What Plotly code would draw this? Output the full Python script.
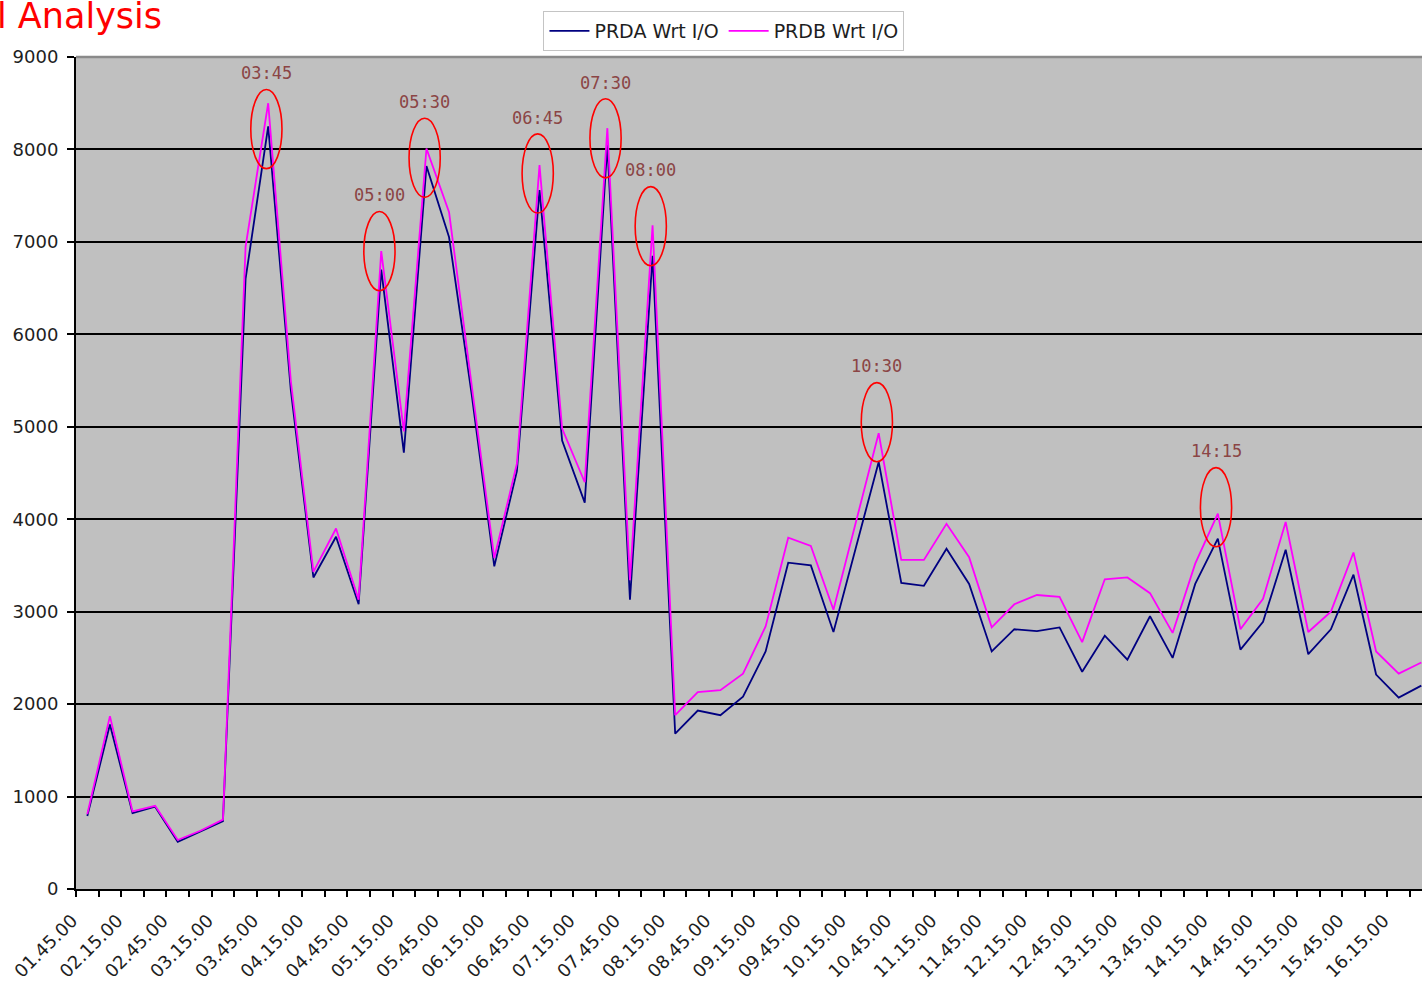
import plotly.graph_objects as go

NAVY = "#000080"
MAGENTA = "#ff00ff"
NOTE = "#8b4545"

TIMES = [
    "01.45.00", "02.00.00", "02.15.00", "02.30.00", "02.45.00", "03.00.00",
    "03.15.00", "03.30.00", "03.45.00", "04.00.00", "04.15.00", "04.30.00",
    "04.45.00", "05.00.00", "05.15.00", "05.30.00", "05.45.00", "06.00.00",
    "06.15.00", "06.30.00", "06.45.00", "07.00.00", "07.15.00", "07.30.00",
    "07.45.00", "08.00.00", "08.15.00", "08.30.00", "08.45.00", "09.00.00",
    "09.15.00", "09.30.00", "09.45.00", "10.00.00", "10.15.00", "10.30.00",
    "10.45.00", "11.00.00", "11.15.00", "11.30.00", "11.45.00", "12.00.00",
    "12.15.00", "12.30.00", "12.45.00", "13.00.00", "13.15.00", "13.30.00",
    "13.45.00", "14.00.00", "14.15.00", "14.30.00", "14.45.00", "15.00.00",
    "15.15.00", "15.30.00", "15.45.00", "16.00.00", "16.15.00", "16.30.00",
]

PRDA_WRT = [
    790, 1780, 820, 890, 510, 620, 735, 6600, 8250, 5400,
    3370, 3810, 3080, 6700, 4720, 7820, 7050, 5350, 3490, 4520,
    7560, 4850, 4180, 8050, 3130, 6850, 1680, 1930, 1880, 2080,
    2570, 3530, 3500, 2780, 3700, 4620, 3310, 3280, 3680, 3300,
    2570, 2810, 2790, 2830, 2350, 2740, 2480, 2950, 2500, 3300,
    3790, 2590, 2890, 3670, 2540, 2810, 3400, 2320, 2070, 2200,
]

PRDB_WRT = [
    810, 1870, 840, 900, 530, 630, 750, 6950, 8500, 5500,
    3430, 3900, 3130, 6900, 4950, 8010, 7320, 5450, 3580, 4600,
    7830, 4980, 4400, 8230, 3340, 7180, 1880, 2130, 2150, 2330,
    2840, 3800, 3710, 3020, 3980, 4930, 3560, 3560, 3950, 3590,
    2830, 3080, 3180, 3160, 2670, 3350, 3370, 3200, 2770, 3520,
    4060, 2810, 3140, 3970, 2780, 3000, 3640, 2570, 2330, 2450,
]

PEAK_LABELS = ["03:45", "05:00", "05:30", "06:45", "07:30", "08:00", "10:30", "14:15"]

Y_TICKS = [0, 1000, 2000, 3000, 4000, 5000, 6000, 7000, 8000, 9000]

idx = list(range(len(TIMES)))

fig = go.Figure()
fig.add_trace(go.Scatter(x=idx, y=PRDA_WRT, mode="lines", name="PRDA Wrt I/O",
                         line=dict(color=NAVY, width=1.8)))
fig.add_trace(go.Scatter(x=idx, y=PRDB_WRT, mode="lines", name="PRDB Wrt I/O",
                         line=dict(color=MAGENTA, width=1.8)))

# hand-drawn style circles round the peaks (centre in y units, drawn on the data scale)
circle_mid = [8220, 6900, 7910, 7740, 8120, 7170, 5050, 4130]
half_w, half_h = 0.69, 428
for label, mid in zip(PEAK_LABELS, circle_mid):
    cx = TIMES.index(label.replace(":", ".") + ".00") - 0.08
    fig.add_shape(type="circle", xref="x", yref="y",
                  x0=cx - half_w, x1=cx + half_w, y0=mid - half_h, y1=mid + half_h,
                  line=dict(color="#ff0000", width=1.6), layer="above")
    fig.add_annotation(x=cx, y=mid + half_h + 175, text=label, showarrow=False,
                       font=dict(family="DejaVu Sans Mono", size=17, color=NOTE))

# grey top border of the plot area
fig.add_shape(type="line", xref="paper", yref="paper", x0=0, x1=1, y0=1, y1=1,
              line=dict(color="#8a8a8a", width=2.5), layer="above")

fig.add_annotation(xref="paper", yref="paper", x=0, y=1, xanchor="left", yanchor="bottom",
                   xshift=-81, yshift=19, text="l Analysis", showarrow=False,
                   font=dict(family="DejaVu Sans", size=35, color="#ff0000"))

fig.update_layout(
    width=1422,
    height=982,
    margin=dict(l=76, r=0, t=57, b=93, autoexpand=False),
    paper_bgcolor="white",
    plot_bgcolor="#c0c0c0",
    font=dict(family="DejaVu Sans", size=18, color="#1e1e1e"),
    showlegend=True,
    legend=dict(orientation="h", x=0.4814, xanchor="center", y=1.0553, yanchor="top",
                bgcolor="white", bordercolor="#c4c4c4", borderwidth=1,
                font=dict(family="DejaVu Sans", size=19, color="#1e1e1e"),
                itemwidth=40),
    xaxis=dict(
        range=[-0.5, 59.03],
        automargin=False,
        tickmode="array",
        tickvals=idx[::2],
        ticktext=TIMES[::2],
        tickangle=-45,
        ticks="",
        ticklabelshift=-15,
        ticklabelstandoff=12,
        tickfont=dict(family="DejaVu Sans", size=18, color="#1e1e1e"),
        showgrid=False,
        zeroline=False,
        showline=True,
        linecolor="black",
        linewidth=2,
        minor=dict(ticks="outside", tick0=-0.5, dtick=1, ticklen=6, tickwidth=2,
                   tickcolor="black", showgrid=False),
    ),
    yaxis=dict(
        range=[0, 9000],
        automargin=False,
        tickmode="array",
        tickvals=Y_TICKS,
        ticks="outside",
        ticklen=7,
        tickwidth=2,
        tickcolor="black",
        ticklabelstandoff=5,
        tickfont=dict(family="DejaVu Sans", size=18, color="#1e1e1e"),
        showgrid=True,
        gridcolor="black",
        gridwidth=2,
        zeroline=False,
        showline=True,
        linecolor="black",
        linewidth=2,
    ),
)

fig.write_html("out.html", config={"displayModeBar": False},
               post_script="document.body.style.margin = '0';")
